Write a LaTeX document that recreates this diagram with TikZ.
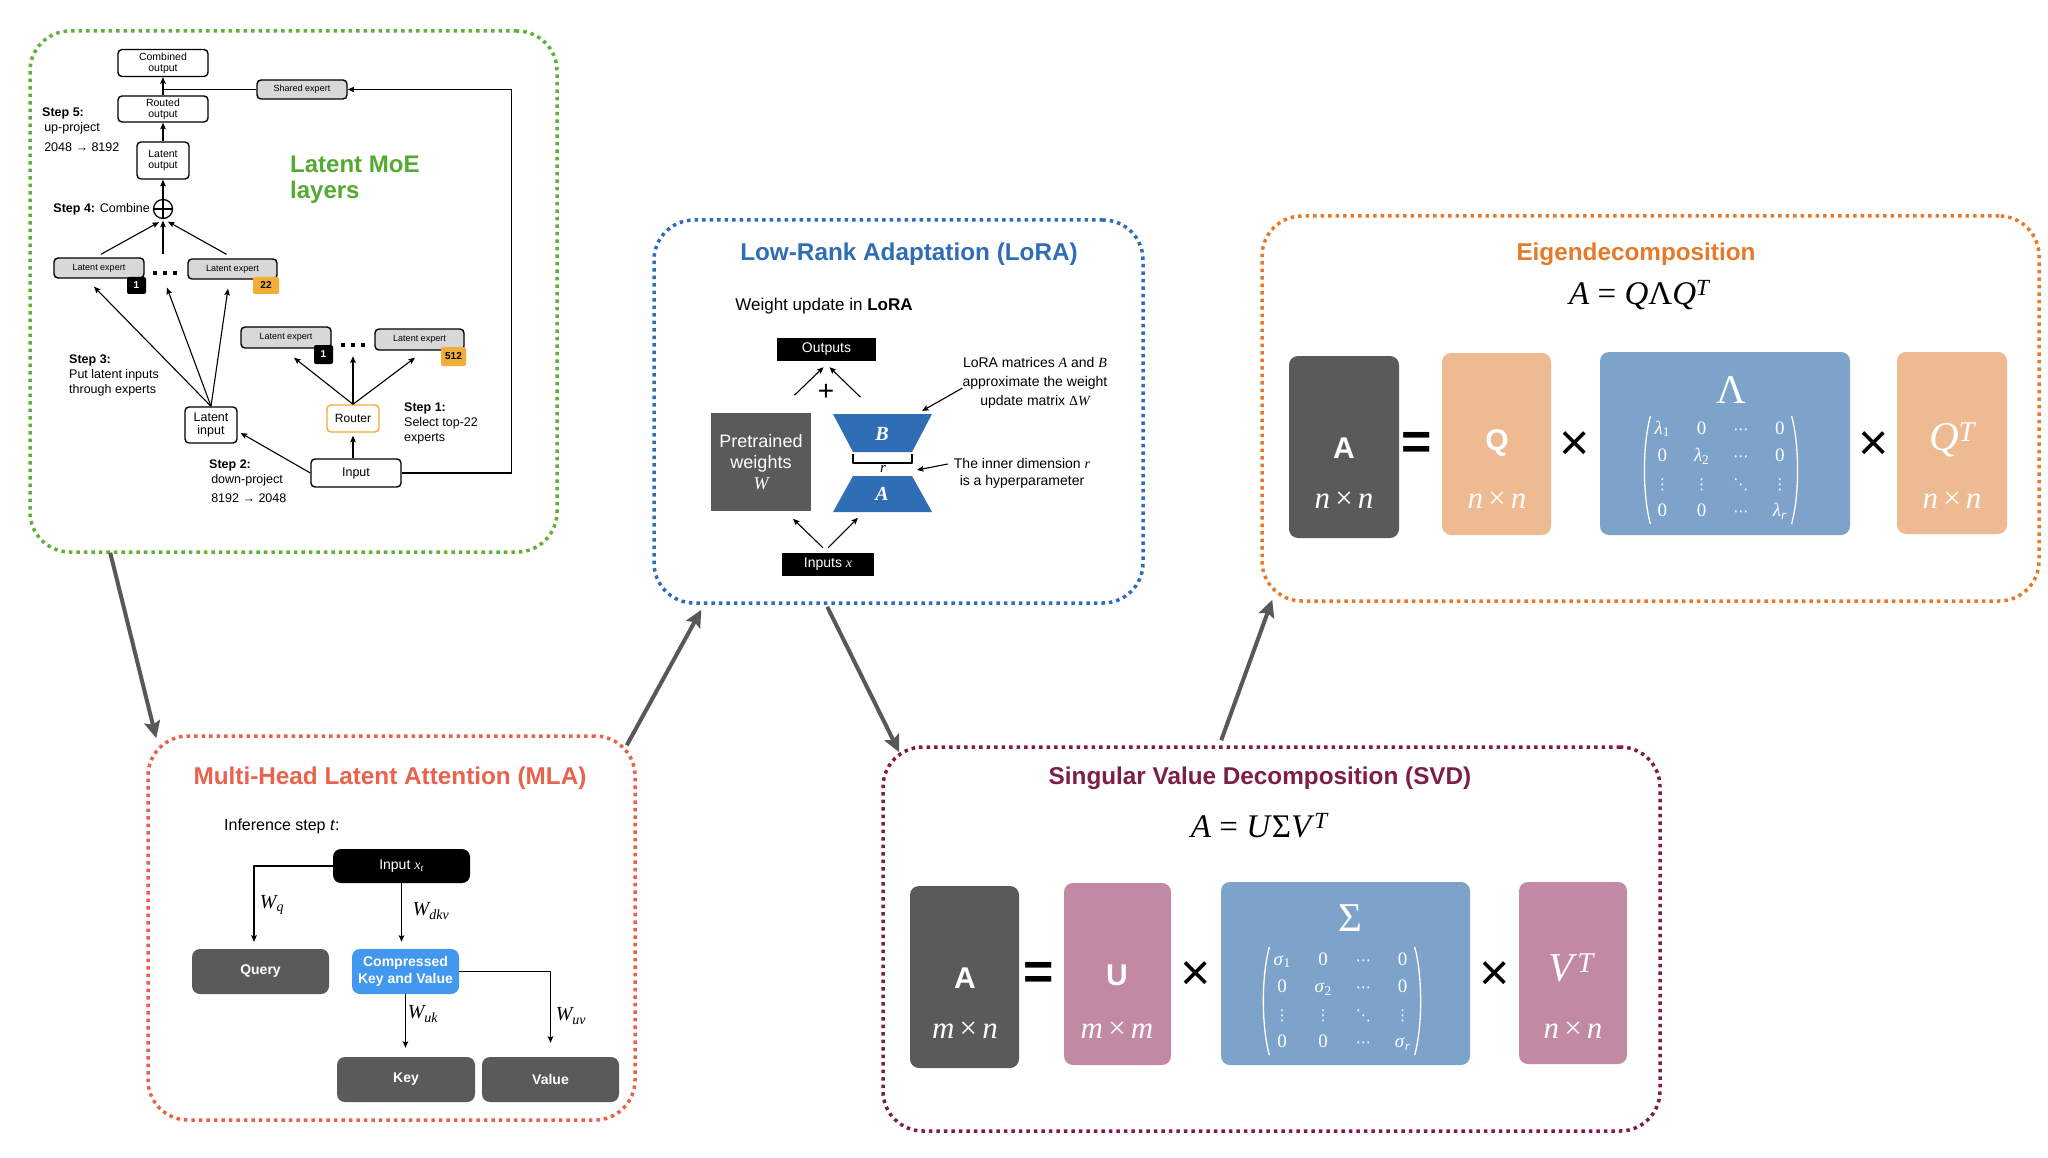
\documentclass[tikz,border=0pt]{standalone}
\usepackage{amsmath}
\usepackage[no-math]{fontspec}
\setmainfont{Liberation Sans}
\newfontfamily\tms{Liberation Serif}
\newfontfamily\djv{DejaVu Sans}
\usetikzlibrary{arrows.meta,calc}
\definecolor{moegreen}{RGB}{95,178,55}
\definecolor{moetext}{RGB}{85,170,50}
\definecolor{lorablue}{RGB}{47,110,181}
\definecolor{mlared}{RGB}{232,98,78}
\definecolor{svdmaroon}{RGB}{125,30,72}
\definecolor{eigorange}{RGB}{228,122,42}
\definecolor{dgray}{RGB}{90,90,90}
\definecolor{lgray}{RGB}{216,216,216}
\definecolor{badgeor}{RGB}{242,172,56}
\definecolor{mpink}{RGB}{194,137,165}
\definecolor{mpeach}{RGB}{238,186,146}
\definecolor{mblue}{RGB}{125,163,203}
\definecolor{ckvblue}{RGB}{66,152,238}
\definecolor{conngray}{RGB}{88,88,88}
\newcommand\fsz[2]{\fontsize{#1}{#2}\selectfont}
\newcommand\mi[1]{{\tms\itshape #1}}
\newcommand\se[1]{\mbox{\tms #1}}
\newcommand\dvs[1]{\mbox{\djv\fontsize{15}{15}\selectfont #1}}
\begin{document}
\begin{tikzpicture}[x=1pt,y=-1pt,line join=round,
  panel/.style={draw=#1, line width=3.5pt, dash pattern=on 3.5pt off 4pt, rounded corners=40pt, inner sep=0pt},
  conn/.style={draw=conngray, line width=4pt, -{Stealth[length=17pt,width=16pt,inset=3pt]}},
  arr/.style={draw=black, line width=1.1pt, -{Stealth[length=6.5pt,width=5.5pt,inset=1pt]}},
  ln/.style={draw=black, line width=1.1pt},
  wbox/.style={draw=black, line width=1.4pt, rounded corners=4pt, fill=white, align=center, inner sep=0pt, font=\fsz{10.5}{11}},
  gbox/.style={wbox, fill=lgray, font=\fsz{9}{10}},
  badge/.style={fill=#1, rounded corners=2pt, inner sep=0pt, font=\bfseries\fsz{10}{11}},
  sqdot/.style={fill=black, minimum size=4pt, inner sep=0pt},
  blk/.style={align=left, anchor=west, inner sep=0pt, font=\fsz{12.5}{15}},
  ptitle/.style={font=\bfseries\fsz{24.3}{27}, inner sep=0pt},
  mbox/.style={rounded corners=8pt, inner sep=0pt, text=white, align=center},
  bigop/.style={font=\fsz{52}{52}, inner sep=0pt},
  blab/.style={text=white, font=\bfseries\fsz{30}{32}, inner sep=0pt},
  dimlab/.style={text=white, font=\tms\fsz{31}{32}, inner sep=0pt},
  matlab/.style={text=white, font=\tms\fsz{41}{41}, inner sep=0pt},
  matx/.style={text=white, font=\fsz{19}{23}, inner sep=0pt},
  paren/.style={draw=white, line width=1.3pt},
  wlab/.style={font=\fsz{20}{20}, inner sep=0pt},
]
\fill[white] (0,0) rectangle (2048,1158);
\useasboundingbox (0,0) rectangle (2048,1158);

% ---------- panels ----------
\node[panel=moegreen, minimum width=527pt, minimum height=521pt] (moe) at (293.5,291.5) {};
\node[panel=lorablue, minimum width=489pt, minimum height=383pt] (lora) at (898.5,411.5) {};
\node[panel=mlared, minimum width=487pt, minimum height=384pt] (mla) at (391.5,928) {};
\node[panel=svdmaroon, minimum width=777pt, minimum height=384pt] (svd) at (1271.5,939) {};
\node[panel=eigorange, minimum width=777pt, minimum height=385pt] (eig) at (1650.5,408.5) {};

% ---------- connectors ----------
\draw[conn] ($(moe.south west)+(82,-1)$) -- ($(mla.north west)+(10,4)$);
\draw[conn] ($(mla.north east)+(-10,11)$) -- ($(lora.south west)+(49,5)$);
\draw[conn] ($(lora.south west)+(175,2)$) -- ($(svd.north west)+(18,7)$);
\draw[conn] ($(svd.north west)+(340,-5)$) -- ($(eig.south west)+(12,-3)$);

% ---------- Latent MoE ----------
\node[wbox, minimum width=90pt, minimum height=27pt] (comb) at (163,63) {Combined\\output};
\node[wbox, minimum width=90pt, minimum height=26pt] (routed) at (163,109) {Routed\\output};
\node[gbox, minimum width=90pt, minimum height=19pt] (shared) at (302,89.5) {Shared expert};
\node[wbox, minimum width=52pt, minimum height=37pt] (lout) at (163,160.5) {Latent\\output};
\node[circle, draw, line width=1.3pt, minimum size=19pt, inner sep=0pt] (plus) at (163,209) {};
\draw[line width=1.3pt] (plus.north) -- (plus.south) (plus.west) -- (plus.east);
\draw[arr] (routed) -- (comb);
\draw[ln] (shared.west) -- (shared.west -| routed.north);
\draw[arr] (lout) -- (routed);
\draw[arr] (plus) -- (lout);

\node[gbox, minimum width=90pt, minimum height=20pt] (e1) at (99,268) {Latent expert};
\node[badge=black, text=white, minimum width=19pt, minimum height=17pt] (b1) at (136.5,285.5) {1};
\node[gbox, minimum width=89pt, minimum height=20pt] (e22) at (232.5,269) {Latent expert};
\node[badge=badgeor, minimum width=26pt, minimum height=17pt] (b22) at (266,285.5) {22};
\node[sqdot] (da1) at (155,273) {};
\node[sqdot] (da2) at (165,273) {};
\node[sqdot] (da3) at (175,273) {};

\draw[arr] ($(e1.north)+(2,-3)$) -- ($(plus.south)+(-4,3)$);
\draw[arr] ($(plus.south |- e1.north)+(0,-3)$) -- ($(plus.south)+(0,1.5)$);
\draw[arr] ($(e22.north)+(-6,-4)$) -- ($(plus.south)+(5,2.5)$);

\node[gbox, minimum width=90pt, minimum height=21pt] (e1b) at (286,337.5) {Latent expert};
\node[badge=black, text=white, minimum width=19pt, minimum height=19pt] (b1b) at (323.5,354.5) {1};
\node[gbox, minimum width=89pt, minimum height=21pt] (e512) at (419.5,339.5) {Latent expert};
\node[badge=badgeor, minimum width=25pt, minimum height=19pt] (b512) at (453.5,356.5) {512};
\node[sqdot] (db1) at (343,345) {};
\node[sqdot] (db2) at (353,345) {};
\node[sqdot] (db3) at (363,345) {};

\node[wbox, font=\fsz{12.5}{13.5}, minimum width=52pt, minimum height=36pt] (lin) at (211,425) {Latent\\input};
\node[wbox, draw=badgeor, font=\fsz{12}{13}, minimum width=52pt, minimum height=27pt] (router) at (353,418.5) {Router};
\node[wbox, font=\fsz{12.5}{13.5}, minimum width=90pt, minimum height=28pt] (inp) at (356,473) {Input};

\draw[arr] (lin.north) -- ($(e1.south)+(-5,8)$);
\draw[arr] (lin.north) -- ($(plus.south |- e1.south)+(4,9)$);
\draw[arr] (lin.north) -- ($(e22.south)+(-4.5,9)$);
\draw[arr] (router.north) -- ($(e1b.south)+(8,9)$);
\draw[arr] (router.north) -- ($(router.north)+(0,-48)$);
\draw[arr] (router.north) -- ($(e512.south)+(-4.5,7)$);
\draw[arr] (inp.north -| router.north) -- ($(router.south)+(0,3)$);
\draw[arr] (inp.west) -- ($(lin.east)+(3,8)$);
\draw[arr] (inp.east) -- ++(110,0) |- (shared.east);

\node[font=\bfseries\fsz{24}{26}, text=moetext, align=left, anchor=west, inner sep=0pt] (moetitle) at (290,180) {Latent MoE\\layers};
\node[blk] (s5) at (42,130) {\textbf{Step 5:}\\\,up-project\\[5pt]\,2048 → 8192};
\node[font=\fsz{12.5}{15}, anchor=east, inner sep=0pt] (s4) at (150,209) {\textbf{Step 4:} Combine};
\node[blk] (s3) at (69,375) {\textbf{Step 3:}\\Put latent inputs\\through experts};
\node[blk] (s1) at (404,423) {\textbf{Step 1:}\\Select top-22\\experts};
\node[blk] (s2) at (209,481) {\textbf{Step 2:}\\\,down-project\\[4pt]\,8192 → 2048};

% ---------- LoRA ----------
\node[ptitle, text=lorablue] (loratitle) at (909,254) {Low-Rank Adaptation (LoRA)};
\node[font=\fsz{17}{20}, inner sep=0pt] (wu) at (824,306) {Weight update in \textbf{LoRA}};
\node[fill=black, text=white, font=\fsz{14}{16}, minimum width=99pt, minimum height=23pt, inner sep=0pt] (outs) at (826.5,349.5) {Outputs};
\node[font=\fsz{28}{28}, inner sep=0pt] (plusL) at (826,392) {+};
\node[fill=dgray, text=white, align=center, font=\fsz{18}{21}, minimum width=100pt, minimum height=98pt, inner sep=0pt] (pw) at (761,462) {Pretrained\\weights\\\mi{W}};
\fill[lorablue] (833,414) -- (932,414) -- (912,452) -- (853,452) -- cycle;
\fill[lorablue] (853,476) -- (912,476) -- (932,512) -- (833,512) -- cycle;
\node[text=white, font=\tms\itshape\bfseries\fsz{20}{20}, inner sep=0pt] (labB) at (882,434) {B};
\node[text=white, font=\tms\itshape\bfseries\fsz{20}{20}, inner sep=0pt] (labA) at (882,494) {A};
\draw[line width=1.2pt] (853,454) -- (853,463) -- (912,463) -- (912,454);
\node[font=\tms\itshape\fsz{15}{15}, inner sep=0pt] (labr) at (883,469) {r};
\draw[arr] ($(outs.south)+(-32,34)$) -- ($(outs.south)+(-3,6)$);
\draw[arr] ($(outs.south)+(34,36)$) -- ($(outs.south)+(3,6)$);
\node[fill=black, text=white, font=\fsz{14}{16}, minimum width=92pt, minimum height=23pt, inner sep=0pt] (ins) at (828,564.5) {Inputs \mi{x}};
\draw[arr] ($(ins.north)+(-5,-5)$) -- ($(ins.north)+(-35,-34)$);
\draw[arr] ($(ins.north)+(0,-5)$) -- ($(ins.north)+(30,-35)$);
\node[align=center, font=\fsz{14}{19}, inner sep=0pt] (ann1) at (1035,383) {LoRA matrices \mi{A} and \mi{B}\\approximate the weight\\update matrix {\tms Δ}\mi{W}};
\draw[arr] ($(ann1.west)+(0,5)$) -- ($(labB)+(40,-23)$);
\node[align=center, font=\fsz{14}{17}, inner sep=0pt] (ann2) at (1022,473) {The inner dimension \mi{r}\\is a hyperparameter};
\draw[arr] ($(ann2.west)+(-6,-9)$) -- ($(labr)+(34,1)$);

% ---------- MLA ----------
\node[ptitle, text=mlared] (mlatitle) at (390,778) {Multi-Head Latent Attention (MLA)};
\node[font=\fsz{16}{18}, anchor=west, inner sep=0pt] (inf) at (224,826) {Inference step \textit{t}:};
\node[mbox, fill=black, font=\fsz{14}{16}, minimum width=137pt, minimum height=34pt] (inx) at (401.5,866) {Input \mi{x}\textsubscript{\mi{t}}};
\node[mbox, fill=dgray, font=\bfseries\fsz{14}{16}, minimum width=137pt, minimum height=45pt] (query) at (260.5,971.5) {Query};
\node[mbox, fill=ckvblue, font=\bfseries\fsz{14}{17}, minimum width=107pt, minimum height=45pt] (ckv) at (405.5,971.5) {Compressed\\Key and Value};
\node[mbox, fill=dgray, font=\bfseries\fsz{14}{16}, minimum width=138pt, minimum height=45pt] (key) at (406,1079.5) {Key};
\node[mbox, fill=dgray, font=\bfseries\fsz{14}{16}, minimum width=137pt, minimum height=45pt] (val) at (550.5,1079.5) {Value};
\draw[arr] (inx.west) -| ($(query.north)+(-6.5,-7)$);
\draw[arr] (inx.south) -- ($(ckv.north -| inx.south)+(0,-7)$);
\draw[arr] (ckv.south) -- ($(ckv.south |- key.north)+(0,-9)$);
\draw[arr] (ckv.east) -| ($(val.north)+(0,-14)$);
\node[wlab] (wq) at (272,905) {\mi{W}\textsubscript{\mi{q}}};
\node[wlab] (wdkv) at (431,911) {\mi{W}\textsubscript{\mi{dkv}}};
\node[wlab] (wuk) at (423,1014) {\mi{W}\textsubscript{\mi{uk}}};
\node[wlab] (wuv) at (571,1016) {\mi{W}\textsubscript{\mi{uv}}};

% ---------- SVD ----------
\node[ptitle, text=svdmaroon] (svdtitle) at (1260,778) {Singular Value Decomposition (SVD)};
\node[font=\tms\fsz{33}{36}, inner sep=0pt] (svdf) at (1260,826) {\textit{A} = \textit{U}Σ\textit{V}\textsuperscript{\textit{T}}};
\node[mbox, rounded corners=9pt, fill=dgray, minimum width=109pt, minimum height=182pt] (sA) at (964.5,977) {};
\node[blab] (sAl) at (965,978) {A};
\node[dimlab] (sAd) at (965,1030) {\textit{m}\,×\,\textit{n}};
\node[bigop, font=\bfseries\fsz{52}{52}] (seq) at (1039,976) {=};
\node[mbox, rounded corners=9pt, fill=mpink, minimum width=107pt, minimum height=182pt] (sU) at (1117.5,974) {};
\node[blab] (sUl) at (1117,975) {U};
\node[dimlab] (sUd) at (1117,1030) {\textit{m}\,×\,\textit{m}};
\node[bigop] (sx1) at (1196,976) {×};
\node[mbox, rounded corners=9pt, fill=mblue, minimum width=249pt, minimum height=183pt] (sS) at (1345.5,973.5) {};
\node[matlab] (sSl) at (1350,918) {Σ};
\node[matx] (sSm) at (1342,1001) {$\setlength\arraycolsep{12pt}\renewcommand\arraystretch{1.2}\begin{matrix}
\se{\textit{σ}\textsubscript{1}} & \se{0} & \dvs{⋯} & \se{0}\\
\se{0} & \se{\textit{σ}\textsubscript{2}} & \dvs{⋯} & \se{0}\\
\dvs{⋮} & \dvs{⋮} & \dvs{⋱} & \dvs{⋮}\\
\se{0} & \se{0} & \dvs{⋯} & \se{\textit{σ}\textsubscript{\textit{r}}}
\end{matrix}$};
\draw[paren] ($(sSm.west)+(-4,-54)$) .. controls ($(sSm.west)+(-12,-25)$) and ($(sSm.west)+(-12,25)$) .. ($(sSm.west)+(-4,54)$);
\draw[paren] ($(sSm.east)+(4,-54)$) .. controls ($(sSm.east)+(12,-25)$) and ($(sSm.east)+(12,25)$) .. ($(sSm.east)+(4,54)$);
\node[bigop] (sx2) at (1495,976) {×};
\node[mbox, rounded corners=9pt, fill=mpink, minimum width=108pt, minimum height=182pt] (sV) at (1573,973) {};
\node[matlab] (sVl) at (1572,968) {\textit{V}\textsuperscript{\textit{T}}};
\node[dimlab] (sVd) at (1573,1030) {\textit{n}\,×\,\textit{n}};

% ---------- Eigendecomposition ----------
\node[ptitle, text=eigorange] (eigtitle) at (1636,254) {Eigendecomposition};
\node[font=\tms\fsz{33}{36}, inner sep=0pt] (eigf) at (1640,295) {\textit{A} = \textit{Q}Λ\textit{Q}\textsuperscript{\textit{T}}};
\node[mbox, rounded corners=9pt, fill=dgray, minimum width=110pt, minimum height=182pt] (eA) at (1344,447) {};
\node[blab] (eAl) at (1344,448) {A};
\node[dimlab] (eAd) at (1344,500) {\textit{n}\,×\,\textit{n}};
\node[bigop, font=\bfseries\fsz{52}{52}] (eeq) at (1417,446) {=};
\node[mbox, rounded corners=9pt, fill=mpeach, minimum width=109pt, minimum height=182pt] (eQ) at (1496.5,444) {};
\node[blab] (eQl) at (1497,443) {Q};
\node[dimlab] (eQd) at (1497,500) {\textit{n}\,×\,\textit{n}};
\node[bigop] (ex1) at (1575,446) {×};
\node[mbox, rounded corners=9pt, fill=mblue, minimum width=250pt, minimum height=183pt] (eL) at (1725,443.5) {};
\node[matlab] (eLl) at (1731,390) {Λ};
\node[matx] (eLm) at (1721,470) {$\setlength\arraycolsep{12pt}\renewcommand\arraystretch{1.2}\begin{matrix}
\se{\textit{λ}\textsubscript{1}} & \se{0} & \dvs{⋯} & \se{0}\\
\se{0} & \se{\textit{λ}\textsubscript{2}} & \dvs{⋯} & \se{0}\\
\dvs{⋮} & \dvs{⋮} & \dvs{⋱} & \dvs{⋮}\\
\se{0} & \se{0} & \dvs{⋯} & \se{\textit{λ}\textsubscript{\textit{r}}}
\end{matrix}$};
\draw[paren] ($(eLm.west)+(-4,-54)$) .. controls ($(eLm.west)+(-12,-25)$) and ($(eLm.west)+(-12,25)$) .. ($(eLm.west)+(-4,54)$);
\draw[paren] ($(eLm.east)+(4,-54)$) .. controls ($(eLm.east)+(12,-25)$) and ($(eLm.east)+(12,25)$) .. ($(eLm.east)+(4,54)$);
\node[bigop] (ex2) at (1874,446) {×};
\node[mbox, rounded corners=9pt, fill=mpeach, minimum width=110pt, minimum height=182pt] (eQT) at (1952,443) {};
\node[matlab] (eQTl) at (1953,440) {\textit{Q}\textsuperscript{\textit{T}}};
\node[dimlab] (eQTd) at (1952,500) {\textit{n}\,×\,\textit{n}};
\end{tikzpicture}
\end{document}
